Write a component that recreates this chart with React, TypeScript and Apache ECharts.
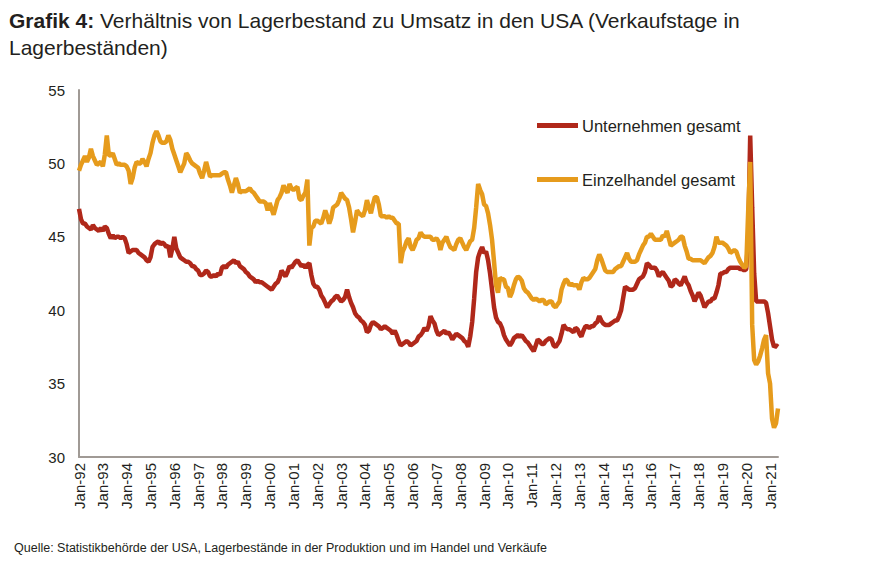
import React, { useEffect, useRef } from "react";
import * as echarts from "echarts";

const START_YEAR = 1992;
const MONTH_NAMES = ["Jan", "Feb", "Mar", "Apr", "May", "Jun", "Jul", "Aug", "Sep", "Oct", "Nov", "Dec"];

// Unternehmen gesamt (days of sales in inventories), monthly Jan-92 .. May-21
const unternehmen: number[] = [
  // 1992
  46.9, 46.2, 45.9, 45.9, 45.7, 45.6, 45.5, 45.8, 45.6, 45.5, 45.4, 45.6,
  // 1993
  45.4, 45.7, 45.6, 45.2, 44.9, 45.1, 44.9, 45.0, 45.0, 44.9, 45.0, 44.9,
  // 1994
  44.5, 43.9, 44.0, 44.1, 44.1, 44.1, 43.9, 43.8, 43.7, 43.6, 43.4, 43.3,
  // 1995
  43.6, 44.3, 44.5, 44.6, 44.7, 44.5, 44.6, 44.5, 44.3, 44.4, 43.6, 44.2,
  // 1996
  45.0, 44.2, 43.9, 43.6, 43.5, 43.4, 43.3, 43.3, 43.2, 43.0, 43.0, 42.8,
  // 1997
  42.7, 42.4, 42.4, 42.5, 42.7, 42.6, 42.3, 42.3, 42.4, 42.3, 42.5, 42.4,
  // 1998
  42.9, 43.0, 42.9, 43.1, 43.2, 43.3, 43.4, 43.2, 43.3, 43.0, 42.9, 42.8,
  // 1999
  42.6, 42.5, 42.3, 42.2, 42.1, 41.9, 42.0, 41.9, 41.9, 41.8, 41.7, 41.6,
  // 2000
  41.5, 41.4, 41.6, 41.8, 41.9, 42.2, 42.7, 42.5, 42.3, 42.6, 43.0, 42.9,
  // 2001
  43.1, 43.3, 43.4, 43.2, 43.0, 43.1, 42.9, 43.1, 43.2, 42.4, 41.8, 41.6,
  // 2002
  41.6, 41.4, 41.0, 40.8, 40.5, 40.2, 40.4, 40.6, 40.7, 40.9, 41.0, 40.8,
  // 2003
  40.6, 40.7, 40.9, 41.4, 40.9, 40.5, 40.2, 39.8, 39.6, 39.5, 39.3, 39.2,
  // 2004
  39.0, 38.5, 38.6, 39.0, 39.2, 39.1, 39.0, 38.9, 38.7, 38.8, 38.9, 38.8,
  // 2005
  38.7, 38.6, 38.4, 38.6, 38.3, 37.9, 37.6, 37.7, 37.8, 37.9, 37.8, 37.6,
  // 2006
  37.7, 37.8, 37.9, 38.2, 38.3, 38.5, 38.8, 38.6, 38.9, 39.6, 39.3, 39.1,
  // 2007
  38.6, 38.3, 38.4, 38.5, 38.6, 38.4, 38.5, 38.3, 38.0, 38.2, 38.4, 38.3,
  // 2008
  38.2, 38.1, 37.9, 37.8, 37.5, 38.2, 39.2, 40.8, 42.6, 43.6, 44.0, 44.3,
  // 2009
  43.9, 44.0, 43.4, 42.5, 41.4, 40.2, 39.5, 39.2, 39.1, 38.8, 38.3, 38.0,
  // 2010
  37.8, 37.6, 37.8, 38.1, 38.2, 38.3, 38.2, 38.3, 38.1, 37.9, 37.8, 37.6,
  // 2011
  37.4, 37.2, 37.6, 38.0, 37.9, 37.7, 37.7, 37.9, 38.0, 38.1, 38.0, 37.6,
  // 2012
  37.5, 37.7, 37.9, 38.4, 39.0, 38.8, 38.7, 38.7, 38.6, 38.5, 38.8, 38.7,
  // 2013
  38.4, 38.2, 38.6, 38.9, 38.9, 38.8, 38.9, 38.9, 39.1, 39.2, 39.6, 39.3,
  // 2014
  39.1, 39.0, 39.0, 39.0, 39.1, 39.2, 39.3, 39.3, 39.6, 40.0, 40.8, 41.6,
  // 2015
  41.5, 41.4, 41.4, 41.4, 41.5, 41.8, 42.1, 42.2, 42.3, 42.6, 43.2, 43.1,
  // 2016
  42.9, 42.9, 42.9, 42.7, 42.3, 42.5, 42.6, 42.4, 42.2, 42.0, 41.6, 41.7,
  // 2017
  42.1, 42.0, 41.8, 41.7, 42.0, 42.3, 41.9, 41.7, 41.3, 41.0, 40.6, 40.9,
  // 2018
  41.2, 41.0, 40.6, 40.2, 40.4, 40.6, 40.6, 40.8, 40.8, 41.2, 41.7, 42.5,
  // 2019
  42.5, 42.6, 42.6, 42.8, 42.9, 42.9, 42.9, 42.9, 42.9, 42.8, 42.8, 42.7,
  // 2020
  42.8, 44.8, 51.9, 47.0, 42.5, 40.6, 40.6, 40.6, 40.6, 40.6, 40.5, 39.8,
  // 2021
  38.9, 38.0, 37.5, 37.6, 37.5,
];

// Einzelhandel gesamt, monthly Jan-92 .. May-21
const einzelhandel: number[] = [
  // 1992
  49.5, 49.9, 50.2, 50.5, 50.1, 50.4, 51.0, 50.5, 50.2, 49.9, 50.0, 50.1,
  // 1993
  49.8, 50.6, 51.9, 50.6, 50.5, 50.7, 50.3, 49.9, 50.0, 49.9, 49.9, 49.9,
  // 1994
  49.8, 49.5, 48.6, 49.0, 49.7, 50.1, 50.0, 50.0, 50.3, 50.1, 49.8, 50.3,
  // 1995
  50.7, 51.4, 51.9, 52.2, 51.9, 51.5, 51.4, 51.4, 51.5, 51.9, 51.6, 51.0,
  // 1996
  50.6, 50.2, 49.8, 49.4, 49.7, 50.0, 50.7, 50.5, 50.2, 50.0, 49.9, 49.8,
  // 1997
  49.7, 49.3, 49.0, 49.5, 50.1, 49.6, 49.1, 49.2, 49.2, 49.2, 49.2, 49.2,
  // 1998
  49.3, 49.4, 49.4, 48.9, 48.5, 48.0, 48.5, 49.0, 48.6, 48.0, 48.1, 48.1,
  // 1999
  48.1, 48.2, 48.3, 48.1, 48.0, 47.8, 47.6, 47.4, 47.4, 47.4, 47.3, 46.8,
  // 2000
  47.3, 46.9, 46.5, 47.0, 47.5, 47.7, 48.0, 48.5, 48.2, 48.0, 48.6, 48.3,
  // 2001
  48.2, 48.3, 48.4, 47.6, 47.5, 47.8, 48.0, 48.9, 44.4, 45.6, 45.7, 46.1,
  // 2002
  46.1, 46.0, 45.9, 46.3, 46.8, 46.4, 45.9, 46.3, 47.0, 47.1, 47.2, 47.5,
  // 2003
  48.0, 47.8, 47.6, 47.5, 47.0, 46.2, 45.3, 46.0, 46.8, 46.6, 46.5, 46.4,
  // 2004
  46.8, 47.5, 47.0, 46.6, 47.2, 47.7, 47.7, 47.2, 46.4, 46.4, 46.4, 46.3,
  // 2005
  46.4, 46.3, 46.3, 46.1, 45.9, 45.9, 43.2, 44.0, 44.3, 44.7, 44.9, 44.3,
  // 2006
  44.1, 44.4, 44.8, 44.9, 45.3, 45.1, 45.0, 45.0, 45.0, 45.0, 44.8, 44.8,
  // 2007
  44.9, 44.7, 44.1, 44.6, 44.8, 45.0, 44.6, 44.3, 44.2, 44.1, 44.5, 44.8,
  // 2008
  44.9, 44.6, 44.3, 44.1, 44.4, 44.7, 44.8, 45.6, 47.0, 48.6, 48.2, 47.9,
  // 2009
  47.2, 47.1, 46.6, 45.8, 44.8, 43.3, 41.7, 41.2, 42.2, 42.1, 42.1, 41.6,
  // 2010
  41.5, 40.9, 41.2, 41.7, 42.1, 42.3, 42.2, 42.0, 41.5, 41.3, 41.2, 41.0,
  // 2011
  40.8, 40.7, 40.8, 40.7, 40.6, 40.7, 40.7, 40.4, 40.5, 40.6, 40.6, 40.3,
  // 2012
  40.2, 40.4, 40.6, 41.4, 41.8, 42.1, 42.0, 41.7, 41.8, 41.7, 41.7, 41.7,
  // 2013
  41.4, 41.9, 42.2, 42.1, 42.1, 42.2, 42.4, 42.6, 42.8, 43.4, 43.8, 43.5,
  // 2014
  43.1, 42.7, 42.6, 42.6, 42.6, 42.6, 42.8, 42.9, 43.0, 43.0, 43.3, 43.6,
  // 2015
  43.9, 43.5, 43.3, 43.3, 43.3, 43.4, 43.8, 44.1, 44.4, 44.6, 45.0, 45.0,
  // 2016
  45.2, 45.0, 44.8, 44.8, 44.8, 44.8, 45.1, 45.0, 45.4, 44.9, 44.4, 44.5,
  // 2017
  44.6, 44.7, 44.8, 45.0, 45.0, 44.4, 44.0, 43.5, 43.5, 43.4, 43.4, 43.4,
  // 2018
  43.4, 43.4, 43.3, 43.2, 43.4, 43.6, 43.7, 43.9, 44.3, 45.0, 44.6, 44.6,
  // 2019
  44.6, 44.5, 44.4, 44.2, 43.9, 44.0, 44.1, 44.0, 43.6, 43.3, 43.1, 42.9,
  // 2020
  43.0, 46.8, 50.1, 39.0, 36.6, 36.3, 36.5, 36.9, 37.4, 38.0, 38.3, 35.7,
  // 2021
  35.0, 32.6, 32.0, 32.3, 33.3,
];

const SERIES_NAMES = ["Unternehmen gesamt", "Einzelhandel gesamt"];
const SERIES_COLORS = ["#b0281a", "#e69b1c"];

const Y_MIN = 30;
const Y_MAX = 55;
const Y_STEP = 5;

const TITLE_BOLD = "Grafik 4:";
const TITLE_LINE1 = " Verhältnis von Lagerbestand zu Umsatz in den USA (Verkaufstage in";
const TITLE_LINE2 = "Lagerbeständen)";
const SOURCE = "Quelle: Statistikbehörde der USA, Lagerbestände in der Produktion und im Handel und Verkäufe";

const categories: string[] = unternehmen.map((_, i) => {
  const y = START_YEAR + Math.floor(i / 12);
  return `${MONTH_NAMES[i % 12]}-${String(y % 100).padStart(2, "0")}`;
});

const FONT = "'Liberation Sans', Arial, sans-serif";
const TEXT_COLOR = "#231f20";

export default function App() {
  const ref = useRef<HTMLDivElement>(null);
  useEffect(() => {
    document.body.style.margin = "0";
    if (!ref.current) return;
    const chart = echarts.init(ref.current, undefined, { renderer: "svg" });
    chart.setOption({
      animation: false,
      backgroundColor: "#ffffff",
      textStyle: { fontFamily: FONT },
      title: {
        left: 4,
        top: 2,
        text: `{b|${TITLE_BOLD}}{r|${TITLE_LINE1}}\n{r|${TITLE_LINE2}}`,
        textStyle: {
          fontFamily: FONT,
          fontSize: 21,
          fontWeight: "normal",
          color: TEXT_COLOR,
          lineHeight: 27,
          rich: {
            b: { fontFamily: FONT, fontSize: 21, fontWeight: "bold", color: TEXT_COLOR, lineHeight: 27 },
            r: { fontFamily: FONT, fontSize: 21, fontWeight: "normal", color: TEXT_COLOR, lineHeight: 27 },
          },
        },
      },
      legend: {
        data: SERIES_NAMES,
        orient: "vertical",
        left: 532,
        top: 112,
        icon: "rect",
        itemWidth: 41,
        itemHeight: 5,
        itemGap: 37,
        textStyle: { fontFamily: FONT, fontSize: 16.5, color: TEXT_COLOR, padding: [0, 0, 0, -1] },
      },
      grid: { left: 79, right: 97, top: 90, bottom: 117, containLabel: false },
      xAxis: {
        type: "category",
        data: categories,
        boundaryGap: false,
        axisLine: { show: true, lineStyle: { color: "#a09a95", width: 2 } },
        axisTick: { show: false },
        axisLabel: {
          interval: (index: number) => index % 12 === 0,
          rotate: 90,
          fontFamily: FONT,
          fontSize: 15,
          color: TEXT_COLOR,
          margin: 6,
        },
        splitLine: { show: false },
      },
      yAxis: {
        type: "value",
        min: Y_MIN,
        max: Y_MAX,
        interval: Y_STEP,
        axisLine: { show: true, lineStyle: { color: "#a09a95", width: 2 } },
        axisTick: { show: false },
        axisLabel: { fontFamily: FONT, fontSize: 15, color: TEXT_COLOR, margin: 14 },
        splitLine: { show: false },
      },
      series: [
        {
          name: SERIES_NAMES[0],
          type: "line",
          data: unternehmen,
          showSymbol: false,
          lineStyle: { width: 4.5, color: SERIES_COLORS[0] },
          itemStyle: { color: SERIES_COLORS[0] },
          z: 2,
        },
        {
          name: SERIES_NAMES[1],
          type: "line",
          data: einzelhandel,
          showSymbol: false,
          lineStyle: { width: 4.5, color: SERIES_COLORS[1] },
          itemStyle: { color: SERIES_COLORS[1] },
          z: 3,
        },
      ],
      graphic: [
        {
          type: "text",
          left: 14,
          top: 541,
          style: { text: SOURCE, fontFamily: FONT, fontSize: 12.5, fill: TEXT_COLOR },
        },
      ],
    });
    return () => chart.dispose();
  }, []);
  return <div ref={ref} style={{ width: 875, height: 574 }} />;
}
